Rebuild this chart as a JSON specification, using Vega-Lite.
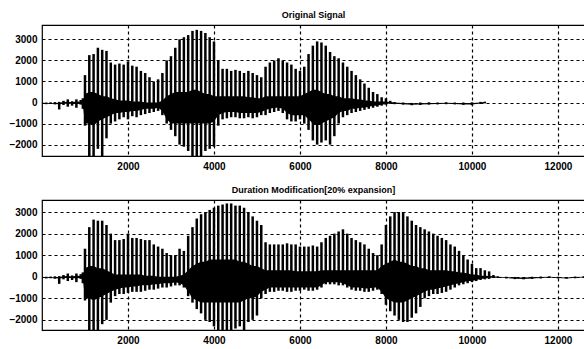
{
  "$schema": "https://vega.github.io/schema/vega-lite/v6.json",
  "background": "white",
  "padding": {"left": 0, "top": 10, "right": 0, "bottom": 0},
  "spacing": 13,
  "config": {
    "view": {"stroke": "black", "strokeWidth": 1.2},
    "font": "Liberation Sans",
    "axis": {
      "grid": true, "gridColor": "black", "gridDash": [3, 3], "gridOpacity": 1, "gridWidth": 1.2,
      "domain": false, "ticks": false, "labelFontSize": 10, "labelFontWeight": "bold",
      "labelColor": "black", "labelPadding": 5, "title": null, "format": "d",
      "labelFont": "Liberation Sans"
    },
    "axisY": {"minExtent": 41, "maxExtent": 41},
    "title": {"fontSize": 9, "fontWeight": "bold", "color": "black", "offset": 5, "anchor": "middle",
      "font": "Liberation Sans"}
  },
  "datasets": {
    "top": [
      {"x": 0, "hi": 0, "lo": -60, "chi": -10, "clo": -50},
      {"x": 100, "hi": 0, "lo": -80, "chi": -20, "clo": -60},
      {"x": 200, "hi": 10, "lo": -70, "chi": -20, "clo": -60},
      {"x": 300, "hi": 20, "lo": -90, "chi": -20, "clo": -70},
      {"x": 400, "hi": 30, "lo": -330, "chi": -10, "clo": -80},
      {"x": 500, "hi": 80, "lo": -120, "chi": 20, "clo": -60},
      {"x": 600, "hi": 150, "lo": -200, "chi": 40, "clo": -60},
      {"x": 700, "hi": 60, "lo": -150, "chi": 10, "clo": -60},
      {"x": 800, "hi": 150, "lo": -250, "chi": 50, "clo": -80},
      {"x": 900, "hi": 120, "lo": -100, "chi": 30, "clo": -50},
      {"x": 950, "hi": 200, "lo": -300, "chi": 50, "clo": -80},
      {"x": 1000, "hi": 1300, "lo": -1100, "chi": 400, "clo": -1000},
      {"x": 1100, "hi": 2250, "lo": -2540, "chi": 500, "clo": -1000},
      {"x": 1200, "hi": 2300, "lo": -2540, "chi": 500, "clo": -1100},
      {"x": 1300, "hi": 2600, "lo": -2200, "chi": 400, "clo": -900},
      {"x": 1400, "hi": 2500, "lo": -2540, "chi": 300, "clo": -800},
      {"x": 1500, "hi": 2450, "lo": -1700, "chi": 300, "clo": -700},
      {"x": 1600, "hi": 1900, "lo": -1000, "chi": 200, "clo": -600},
      {"x": 1700, "hi": 1800, "lo": -900, "chi": 150, "clo": -500},
      {"x": 1800, "hi": 1850, "lo": -800, "chi": 100, "clo": -500},
      {"x": 1900, "hi": 1800, "lo": -700, "chi": 100, "clo": -450},
      {"x": 2000, "hi": 1950, "lo": -800, "chi": 100, "clo": -450},
      {"x": 2100, "hi": 1750, "lo": -650, "chi": 50, "clo": -400},
      {"x": 2200, "hi": 1700, "lo": -700, "chi": 50, "clo": -400},
      {"x": 2300, "hi": 1500, "lo": -600, "chi": 50, "clo": -350},
      {"x": 2400, "hi": 1400, "lo": -550, "chi": 0, "clo": -300},
      {"x": 2500, "hi": 1200, "lo": -500, "chi": 0, "clo": -300},
      {"x": 2600, "hi": 1000, "lo": -450, "chi": 0, "clo": -300},
      {"x": 2700, "hi": 1100, "lo": -400, "chi": 0, "clo": -250},
      {"x": 2800, "hi": 1400, "lo": -600, "chi": 100, "clo": -400},
      {"x": 2900, "hi": 2000, "lo": -1000, "chi": 300, "clo": -800},
      {"x": 3000, "hi": 2200, "lo": -1300, "chi": 400, "clo": -1000},
      {"x": 3100, "hi": 2600, "lo": -1600, "chi": 500, "clo": -1000},
      {"x": 3200, "hi": 3000, "lo": -2000, "chi": 500, "clo": -1000},
      {"x": 3300, "hi": 3100, "lo": -2100, "chi": 500, "clo": -1000},
      {"x": 3400, "hi": 3200, "lo": -2300, "chi": 500, "clo": -1000},
      {"x": 3500, "hi": 3400, "lo": -2540, "chi": 600, "clo": -1000},
      {"x": 3600, "hi": 3450, "lo": -2540, "chi": 600, "clo": -1000},
      {"x": 3700, "hi": 3400, "lo": -2540, "chi": 500, "clo": -1000},
      {"x": 3800, "hi": 3300, "lo": -2300, "chi": 400, "clo": -1000},
      {"x": 3900, "hi": 3100, "lo": -2200, "chi": 400, "clo": -1000},
      {"x": 4000, "hi": 2900, "lo": -2100, "chi": 300, "clo": -900},
      {"x": 4100, "hi": 2000, "lo": -1100, "chi": 300, "clo": -600},
      {"x": 4200, "hi": 1600, "lo": -800, "chi": 300, "clo": -500},
      {"x": 4300, "hi": 1600, "lo": -750, "chi": 300, "clo": -450},
      {"x": 4400, "hi": 1500, "lo": -700, "chi": 300, "clo": -450},
      {"x": 4500, "hi": 1550, "lo": -700, "chi": 300, "clo": -450},
      {"x": 4600, "hi": 1500, "lo": -750, "chi": 300, "clo": -500},
      {"x": 4700, "hi": 1400, "lo": -750, "chi": 300, "clo": -500},
      {"x": 4800, "hi": 1500, "lo": -700, "chi": 250, "clo": -500},
      {"x": 4900, "hi": 1400, "lo": -750, "chi": 250, "clo": -500},
      {"x": 5000, "hi": 1300, "lo": -700, "chi": 200, "clo": -500},
      {"x": 5100, "hi": 1200, "lo": -600, "chi": 200, "clo": -450},
      {"x": 5200, "hi": 1700, "lo": -600, "chi": 300, "clo": -350},
      {"x": 5300, "hi": 1900, "lo": -500, "chi": 300, "clo": -300},
      {"x": 5400, "hi": 2000, "lo": -450, "chi": 300, "clo": -250},
      {"x": 5500, "hi": 2100, "lo": -400, "chi": 300, "clo": -250},
      {"x": 5600, "hi": 2000, "lo": -500, "chi": 300, "clo": -300},
      {"x": 5700, "hi": 1900, "lo": -800, "chi": 300, "clo": -500},
      {"x": 5800, "hi": 1800, "lo": -900, "chi": 300, "clo": -600},
      {"x": 5900, "hi": 1600, "lo": -900, "chi": 300, "clo": -600},
      {"x": 6000, "hi": 1500, "lo": -800, "chi": 300, "clo": -600},
      {"x": 6100, "hi": 1700, "lo": -1000, "chi": 400, "clo": -600},
      {"x": 6200, "hi": 2300, "lo": -1300, "chi": 500, "clo": -800},
      {"x": 6300, "hi": 2700, "lo": -1800, "chi": 600, "clo": -1000},
      {"x": 6400, "hi": 2900, "lo": -2000, "chi": 600, "clo": -1100},
      {"x": 6500, "hi": 2850, "lo": -1900, "chi": 500, "clo": -1000},
      {"x": 6600, "hi": 2700, "lo": -1800, "chi": 400, "clo": -900},
      {"x": 6700, "hi": 2400, "lo": -2000, "chi": 400, "clo": -800},
      {"x": 6800, "hi": 2200, "lo": -1600, "chi": 300, "clo": -700},
      {"x": 6900, "hi": 2100, "lo": -1000, "chi": 300, "clo": -500},
      {"x": 7000, "hi": 1900, "lo": -700, "chi": 200, "clo": -400},
      {"x": 7100, "hi": 1700, "lo": -600, "chi": 200, "clo": -400},
      {"x": 7200, "hi": 1500, "lo": -500, "chi": 200, "clo": -300},
      {"x": 7300, "hi": 1300, "lo": -450, "chi": 150, "clo": -300},
      {"x": 7400, "hi": 1100, "lo": -400, "chi": 150, "clo": -250},
      {"x": 7500, "hi": 900, "lo": -350, "chi": 100, "clo": -250},
      {"x": 7600, "hi": 700, "lo": -300, "chi": 100, "clo": -200},
      {"x": 7700, "hi": 500, "lo": -250, "chi": 50, "clo": -150},
      {"x": 7800, "hi": 400, "lo": -200, "chi": 50, "clo": -150},
      {"x": 7900, "hi": 250, "lo": -150, "chi": 50, "clo": -100},
      {"x": 8000, "hi": 200, "lo": -100, "chi": 50, "clo": -80},
      {"x": 8100, "hi": 80, "lo": -60, "chi": 20, "clo": -40},
      {"x": 8200, "hi": 20, "lo": -80, "chi": 0, "clo": -60},
      {"x": 8400, "hi": 0, "lo": -100, "chi": -20, "clo": -80},
      {"x": 8600, "hi": -20, "lo": -130, "chi": -40, "clo": -110},
      {"x": 8800, "hi": 0, "lo": -120, "chi": -30, "clo": -100},
      {"x": 9000, "hi": 10, "lo": -100, "chi": -20, "clo": -80},
      {"x": 9200, "hi": 0, "lo": -90, "chi": -20, "clo": -70},
      {"x": 9400, "hi": 10, "lo": -80, "chi": -10, "clo": -60},
      {"x": 9600, "hi": 0, "lo": -90, "chi": -20, "clo": -70},
      {"x": 9800, "hi": 0, "lo": -110, "chi": -20, "clo": -90},
      {"x": 10000, "hi": 10, "lo": -130, "chi": -20, "clo": -100},
      {"x": 10200, "hi": 30, "lo": -70, "chi": 0, "clo": -50},
      {"x": 10300, "hi": 40, "lo": -40, "chi": 20, "clo": -20}
    ],
    "bot": [
      {"x": 0, "hi": 0, "lo": -60, "chi": -10, "clo": -50},
      {"x": 100, "hi": 0, "lo": -80, "chi": -20, "clo": -60},
      {"x": 200, "hi": 10, "lo": -70, "chi": -20, "clo": -60},
      {"x": 300, "hi": 20, "lo": -90, "chi": -20, "clo": -70},
      {"x": 400, "hi": 30, "lo": -330, "chi": -10, "clo": -80},
      {"x": 500, "hi": 80, "lo": -120, "chi": 20, "clo": -60},
      {"x": 600, "hi": 150, "lo": -200, "chi": 40, "clo": -60},
      {"x": 700, "hi": 60, "lo": -150, "chi": 10, "clo": -60},
      {"x": 800, "hi": 150, "lo": -250, "chi": 50, "clo": -80},
      {"x": 900, "hi": 120, "lo": -100, "chi": 30, "clo": -50},
      {"x": 950, "hi": 200, "lo": -300, "chi": 50, "clo": -80},
      {"x": 1000, "hi": 1300, "lo": -1100, "chi": 400, "clo": -1000},
      {"x": 1100, "hi": 2300, "lo": -2500, "chi": 500, "clo": -1000},
      {"x": 1200, "hi": 2650, "lo": -2500, "chi": 500, "clo": -1100},
      {"x": 1300, "hi": 2600, "lo": -2500, "chi": 400, "clo": -1000},
      {"x": 1400, "hi": 2600, "lo": -2200, "chi": 400, "clo": -900},
      {"x": 1500, "hi": 2400, "lo": -2000, "chi": 300, "clo": -800},
      {"x": 1600, "hi": 2000, "lo": -1200, "chi": 200, "clo": -700},
      {"x": 1700, "hi": 1700, "lo": -900, "chi": 100, "clo": -600},
      {"x": 1800, "hi": 1700, "lo": -800, "chi": 100, "clo": -550},
      {"x": 1900, "hi": 1750, "lo": -800, "chi": 100, "clo": -500},
      {"x": 2000, "hi": 2000, "lo": -750, "chi": 100, "clo": -500},
      {"x": 2100, "hi": 1800, "lo": -700, "chi": 100, "clo": -450},
      {"x": 2200, "hi": 1800, "lo": -700, "chi": 100, "clo": -450},
      {"x": 2300, "hi": 1750, "lo": -700, "chi": 100, "clo": -400},
      {"x": 2400, "hi": 1700, "lo": -650, "chi": 50, "clo": -400},
      {"x": 2500, "hi": 1700, "lo": -600, "chi": 50, "clo": -400},
      {"x": 2600, "hi": 1500, "lo": -600, "chi": 50, "clo": -350},
      {"x": 2700, "hi": 1400, "lo": -550, "chi": 0, "clo": -350},
      {"x": 2800, "hi": 1300, "lo": -500, "chi": 0, "clo": -300},
      {"x": 2900, "hi": 1100, "lo": -500, "chi": 0, "clo": -300},
      {"x": 3000, "hi": 1000, "lo": -450, "chi": 0, "clo": -300},
      {"x": 3100, "hi": 1000, "lo": -400, "chi": 0, "clo": -250},
      {"x": 3200, "hi": 1300, "lo": -400, "chi": 50, "clo": -300},
      {"x": 3300, "hi": 1200, "lo": -500, "chi": 100, "clo": -400},
      {"x": 3400, "hi": 1900, "lo": -900, "chi": 300, "clo": -700},
      {"x": 3500, "hi": 2300, "lo": -1200, "chi": 500, "clo": -1000},
      {"x": 3600, "hi": 2700, "lo": -1500, "chi": 600, "clo": -1100},
      {"x": 3700, "hi": 2900, "lo": -1700, "chi": 700, "clo": -1200},
      {"x": 3800, "hi": 3000, "lo": -2000, "chi": 700, "clo": -1200},
      {"x": 3900, "hi": 3100, "lo": -2100, "chi": 800, "clo": -1200},
      {"x": 4000, "hi": 3200, "lo": -2300, "chi": 800, "clo": -1200},
      {"x": 4100, "hi": 3300, "lo": -2500, "chi": 800, "clo": -1200},
      {"x": 4200, "hi": 3350, "lo": -2500, "chi": 800, "clo": -1200},
      {"x": 4300, "hi": 3400, "lo": -2500, "chi": 800, "clo": -1200},
      {"x": 4400, "hi": 3400, "lo": -2500, "chi": 800, "clo": -1200},
      {"x": 4500, "hi": 3300, "lo": -2400, "chi": 800, "clo": -1200},
      {"x": 4600, "hi": 3300, "lo": -2300, "chi": 700, "clo": -1200},
      {"x": 4700, "hi": 3200, "lo": -2500, "chi": 700, "clo": -1100},
      {"x": 4800, "hi": 3000, "lo": -2100, "chi": 600, "clo": -1000},
      {"x": 4900, "hi": 2800, "lo": -2000, "chi": 500, "clo": -1000},
      {"x": 5000, "hi": 2600, "lo": -1800, "chi": 500, "clo": -900},
      {"x": 5100, "hi": 2400, "lo": -1000, "chi": 400, "clo": -700},
      {"x": 5200, "hi": 1600, "lo": -800, "chi": 300, "clo": -600},
      {"x": 5300, "hi": 1500, "lo": -700, "chi": 300, "clo": -500},
      {"x": 5400, "hi": 1500, "lo": -700, "chi": 300, "clo": -500},
      {"x": 5500, "hi": 1500, "lo": -650, "chi": 300, "clo": -500},
      {"x": 5600, "hi": 1500, "lo": -650, "chi": 300, "clo": -500},
      {"x": 5700, "hi": 1550, "lo": -700, "chi": 300, "clo": -500},
      {"x": 5800, "hi": 1500, "lo": -700, "chi": 300, "clo": -500},
      {"x": 5900, "hi": 1500, "lo": -650, "chi": 250, "clo": -500},
      {"x": 6000, "hi": 1400, "lo": -650, "chi": 250, "clo": -500},
      {"x": 6100, "hi": 1400, "lo": -600, "chi": 250, "clo": -500},
      {"x": 6200, "hi": 1400, "lo": -650, "chi": 250, "clo": -500},
      {"x": 6300, "hi": 1450, "lo": -650, "chi": 250, "clo": -500},
      {"x": 6400, "hi": 1400, "lo": -600, "chi": 250, "clo": -500},
      {"x": 6500, "hi": 1600, "lo": -500, "chi": 300, "clo": -400},
      {"x": 6600, "hi": 1800, "lo": -350, "chi": 300, "clo": -250},
      {"x": 6700, "hi": 1900, "lo": -350, "chi": 300, "clo": -250},
      {"x": 6800, "hi": 2000, "lo": -350, "chi": 300, "clo": -250},
      {"x": 6900, "hi": 2100, "lo": -400, "chi": 300, "clo": -250},
      {"x": 7000, "hi": 2200, "lo": -400, "chi": 300, "clo": -300},
      {"x": 7100, "hi": 2000, "lo": -500, "chi": 300, "clo": -400},
      {"x": 7200, "hi": 1800, "lo": -600, "chi": 300, "clo": -500},
      {"x": 7300, "hi": 1700, "lo": -650, "chi": 300, "clo": -500},
      {"x": 7400, "hi": 1600, "lo": -650, "chi": 300, "clo": -500},
      {"x": 7500, "hi": 1500, "lo": -700, "chi": 300, "clo": -550},
      {"x": 7600, "hi": 1300, "lo": -700, "chi": 300, "clo": -550},
      {"x": 7700, "hi": 1100, "lo": -650, "chi": 300, "clo": -500},
      {"x": 7800, "hi": 1000, "lo": -600, "chi": 300, "clo": -500},
      {"x": 7900, "hi": 1500, "lo": -800, "chi": 500, "clo": -700},
      {"x": 8000, "hi": 2400, "lo": -1300, "chi": 600, "clo": -1000},
      {"x": 8100, "hi": 2800, "lo": -1600, "chi": 700, "clo": -1100},
      {"x": 8200, "hi": 3000, "lo": -1800, "chi": 800, "clo": -1200},
      {"x": 8300, "hi": 3000, "lo": -2000, "chi": 700, "clo": -1200},
      {"x": 8400, "hi": 3000, "lo": -2100, "chi": 700, "clo": -1200},
      {"x": 8500, "hi": 2800, "lo": -2100, "chi": 600, "clo": -1100},
      {"x": 8600, "hi": 2600, "lo": -1900, "chi": 500, "clo": -1000},
      {"x": 8700, "hi": 2400, "lo": -1700, "chi": 500, "clo": -900},
      {"x": 8800, "hi": 2300, "lo": -1400, "chi": 400, "clo": -800},
      {"x": 8900, "hi": 2200, "lo": -1000, "chi": 400, "clo": -700},
      {"x": 9000, "hi": 2100, "lo": -900, "chi": 300, "clo": -600},
      {"x": 9100, "hi": 2000, "lo": -800, "chi": 300, "clo": -600},
      {"x": 9200, "hi": 1900, "lo": -800, "chi": 300, "clo": -550},
      {"x": 9300, "hi": 1800, "lo": -750, "chi": 300, "clo": -500},
      {"x": 9400, "hi": 1700, "lo": -700, "chi": 300, "clo": -450},
      {"x": 9500, "hi": 1500, "lo": -600, "chi": 250, "clo": -400},
      {"x": 9600, "hi": 1400, "lo": -500, "chi": 250, "clo": -350},
      {"x": 9700, "hi": 1200, "lo": -400, "chi": 200, "clo": -300},
      {"x": 9800, "hi": 1000, "lo": -350, "chi": 200, "clo": -250},
      {"x": 9900, "hi": 800, "lo": -300, "chi": 150, "clo": -200},
      {"x": 10000, "hi": 600, "lo": -250, "chi": 100, "clo": -200},
      {"x": 10100, "hi": 400, "lo": -200, "chi": 100, "clo": -150},
      {"x": 10200, "hi": 400, "lo": -150, "chi": 50, "clo": -100},
      {"x": 10300, "hi": 300, "lo": -120, "chi": 50, "clo": -80},
      {"x": 10400, "hi": 250, "lo": -100, "chi": 30, "clo": -60},
      {"x": 10500, "hi": 80, "lo": -60, "chi": 20, "clo": -40},
      {"x": 10600, "hi": 20, "lo": -60, "chi": 0, "clo": -40},
      {"x": 10800, "hi": 0, "lo": -80, "chi": -20, "clo": -60},
      {"x": 11000, "hi": -10, "lo": -110, "chi": -30, "clo": -90},
      {"x": 11200, "hi": -20, "lo": -120, "chi": -40, "clo": -100},
      {"x": 11400, "hi": 0, "lo": -100, "chi": -20, "clo": -80},
      {"x": 11600, "hi": 10, "lo": -80, "chi": -10, "clo": -60},
      {"x": 11800, "hi": 20, "lo": -60, "chi": 0, "clo": -40},
      {"x": 12000, "hi": 0, "lo": -80, "chi": -20, "clo": -60},
      {"x": 12200, "hi": -10, "lo": -90, "chi": -30, "clo": -80},
      {"x": 12400, "hi": 10, "lo": -70, "chi": -10, "clo": -50},
      {"x": 12600, "hi": 20, "lo": -50, "chi": 0, "clo": -30}
    ]
  },
  "vconcat": [
    {
      "title": "Original Signal",
      "width": 543,
      "height": 131,
      "data": {"name": "top"},
      "encoding": {
        "x": {"field": "x", "type": "quantitative", "scale": {"domain": [0, 12630], "nice": false},
          "axis": {"values": [2000, 4000, 6000, 8000, 10000, 12000]}},
        "y": {"field": "hi", "type": "quantitative", "scale": {"domain": [-2540, 3680], "nice": false, "zero": false},
          "axis": {"values": [-2000, -1000, 0, 1000, 2000, 3000]}}
      },
      "layer": [
        {"mark": {"type": "area", "color": "black", "clip": true, "interpolate": "linear"},
          "encoding": {"y": {"field": "chi", "type": "quantitative"}, "y2": {"field": "clo"}}},
        {"mark": {"type": "rule", "color": "black", "strokeWidth": 2.5, "clip": true},
          "encoding": {"y2": {"field": "lo"}}}
      ]
    },
    {
      "title": "Duration Modification[20% expansion]",
      "width": 543,
      "height": 130,
      "data": {"name": "bot"},
      "encoding": {
        "x": {"field": "x", "type": "quantitative", "scale": {"domain": [0, 12630], "nice": false},
          "axis": {"values": [2000, 4000, 6000, 8000, 10000, 12000]}},
        "y": {"field": "hi", "type": "quantitative", "scale": {"domain": [-2470, 3560], "nice": false, "zero": false},
          "axis": {"values": [-2000, -1000, 0, 1000, 2000, 3000]}}
      },
      "layer": [
        {"mark": {"type": "area", "color": "black", "clip": true, "interpolate": "linear"},
          "encoding": {"y": {"field": "chi", "type": "quantitative"}, "y2": {"field": "clo"}}},
        {"mark": {"type": "rule", "color": "black", "strokeWidth": 2.5, "clip": true},
          "encoding": {"y2": {"field": "lo"}}}
      ]
    }
  ]
}
